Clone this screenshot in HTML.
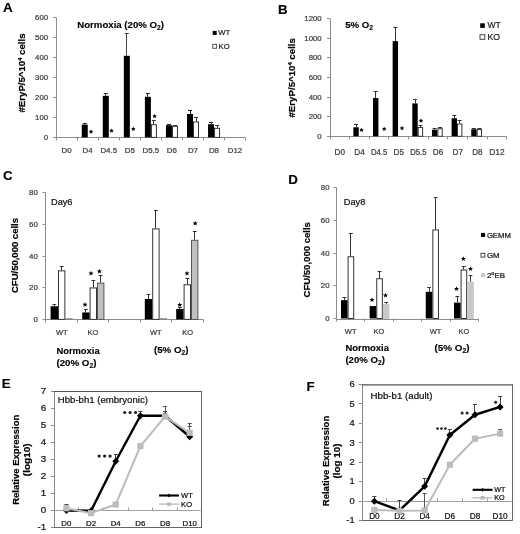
<!DOCTYPE html>
<html><head><meta charset="utf-8"><style>
html,body{margin:0;padding:0;background:#fff;width:520px;height:534px;overflow:hidden}
svg{display:block;filter:grayscale(1)}
text{font-family:"Liberation Sans", sans-serif}
</style></head><body>
<svg width="520" height="534" viewBox="0 0 520 534" font-family='"Liberation Sans", sans-serif'>
<rect width="520" height="534" fill="#fff"/>
<text x="2.90" y="12.30" font-size="13.4" text-anchor="start" font-weight="bold" fill="#000" stroke="#000" stroke-width="0.12" >A</text>
<line x1="56.50" y1="17.40" x2="56.50" y2="137.40" stroke="#8c8c8c" stroke-width="1" />
<line x1="53.00" y1="137.50" x2="56.00" y2="137.50" stroke="#8c8c8c" stroke-width="1" />
<text x="48.10" y="139.82" font-size="7.8" text-anchor="end" font-weight="normal" fill="#3c3c3c" stroke="#3c3c3c" stroke-width="0.22" >0</text>
<line x1="53.00" y1="117.50" x2="56.00" y2="117.50" stroke="#8c8c8c" stroke-width="1" />
<text x="48.10" y="119.82" font-size="7.8" text-anchor="end" font-weight="normal" fill="#3c3c3c" stroke="#3c3c3c" stroke-width="0.22" >100</text>
<line x1="53.00" y1="97.50" x2="56.00" y2="97.50" stroke="#8c8c8c" stroke-width="1" />
<text x="48.10" y="99.82" font-size="7.8" text-anchor="end" font-weight="normal" fill="#3c3c3c" stroke="#3c3c3c" stroke-width="0.22" >200</text>
<line x1="53.00" y1="77.50" x2="56.00" y2="77.50" stroke="#8c8c8c" stroke-width="1" />
<text x="48.10" y="79.82" font-size="7.8" text-anchor="end" font-weight="normal" fill="#3c3c3c" stroke="#3c3c3c" stroke-width="0.22" >300</text>
<line x1="53.00" y1="57.50" x2="56.00" y2="57.50" stroke="#8c8c8c" stroke-width="1" />
<text x="48.10" y="59.82" font-size="7.8" text-anchor="end" font-weight="normal" fill="#3c3c3c" stroke="#3c3c3c" stroke-width="0.22" >400</text>
<line x1="53.00" y1="37.50" x2="56.00" y2="37.50" stroke="#8c8c8c" stroke-width="1" />
<text x="48.10" y="39.82" font-size="7.8" text-anchor="end" font-weight="normal" fill="#3c3c3c" stroke="#3c3c3c" stroke-width="0.22" >500</text>
<line x1="53.00" y1="17.50" x2="56.00" y2="17.50" stroke="#8c8c8c" stroke-width="1" />
<text x="48.10" y="19.82" font-size="7.8" text-anchor="end" font-weight="normal" fill="#3c3c3c" stroke="#3c3c3c" stroke-width="0.22" >600</text>
<line x1="55.50" y1="137.50" x2="244.95" y2="137.50" stroke="#8c8c8c" stroke-width="1" />
<line x1="56.50" y1="137.40" x2="56.50" y2="140.40" stroke="#8c8c8c" stroke-width="1" />
<line x1="77.50" y1="137.40" x2="77.50" y2="140.40" stroke="#8c8c8c" stroke-width="1" />
<line x1="98.50" y1="137.40" x2="98.50" y2="140.40" stroke="#8c8c8c" stroke-width="1" />
<line x1="119.50" y1="137.40" x2="119.50" y2="140.40" stroke="#8c8c8c" stroke-width="1" />
<line x1="140.50" y1="137.40" x2="140.50" y2="140.40" stroke="#8c8c8c" stroke-width="1" />
<line x1="161.50" y1="137.40" x2="161.50" y2="140.40" stroke="#8c8c8c" stroke-width="1" />
<line x1="182.50" y1="137.40" x2="182.50" y2="140.40" stroke="#8c8c8c" stroke-width="1" />
<line x1="203.50" y1="137.40" x2="203.50" y2="140.40" stroke="#8c8c8c" stroke-width="1" />
<line x1="224.50" y1="137.40" x2="224.50" y2="140.40" stroke="#8c8c8c" stroke-width="1" />
<line x1="245.50" y1="137.40" x2="245.50" y2="140.40" stroke="#8c8c8c" stroke-width="1" />
<text x="66.62" y="152.90" font-size="7.9" text-anchor="middle" font-weight="normal" fill="#3c3c3c" stroke="#3c3c3c" stroke-width="0.22" >D0</text>
<text x="87.67" y="152.90" font-size="7.9" text-anchor="middle" font-weight="normal" fill="#3c3c3c" stroke="#3c3c3c" stroke-width="0.22" >D4</text>
<text x="108.72" y="152.90" font-size="7.9" text-anchor="middle" font-weight="normal" fill="#3c3c3c" stroke="#3c3c3c" stroke-width="0.22" >D4.5</text>
<text x="129.78" y="152.90" font-size="7.9" text-anchor="middle" font-weight="normal" fill="#3c3c3c" stroke="#3c3c3c" stroke-width="0.22" >D5</text>
<text x="150.82" y="152.90" font-size="7.9" text-anchor="middle" font-weight="normal" fill="#3c3c3c" stroke="#3c3c3c" stroke-width="0.22" >D5.5</text>
<text x="171.88" y="152.90" font-size="7.9" text-anchor="middle" font-weight="normal" fill="#3c3c3c" stroke="#3c3c3c" stroke-width="0.22" >D6</text>
<text x="192.93" y="152.90" font-size="7.9" text-anchor="middle" font-weight="normal" fill="#3c3c3c" stroke="#3c3c3c" stroke-width="0.22" >D7</text>
<text x="213.97" y="152.90" font-size="7.9" text-anchor="middle" font-weight="normal" fill="#3c3c3c" stroke="#3c3c3c" stroke-width="0.22" >D8</text>
<text x="235.03" y="152.90" font-size="7.9" text-anchor="middle" font-weight="normal" fill="#3c3c3c" stroke="#3c3c3c" stroke-width="0.22" >D12</text>
<rect x="81.75" y="124.60" width="6.00" height="12.80" fill="#000" stroke="none" stroke-width="1" />
<line x1="84.50" y1="124.60" x2="84.50" y2="123.80" stroke="#222" stroke-width="1" />
<line x1="82.75" y1="123.50" x2="86.75" y2="123.50" stroke="#222" stroke-width="1" />
<rect x="102.80" y="95.80" width="6.00" height="41.60" fill="#000" stroke="none" stroke-width="1" />
<line x1="105.50" y1="95.80" x2="105.50" y2="93.00" stroke="#222" stroke-width="1" />
<line x1="103.80" y1="93.50" x2="107.80" y2="93.50" stroke="#222" stroke-width="1" />
<rect x="123.85" y="55.80" width="6.00" height="81.60" fill="#000" stroke="none" stroke-width="1" />
<line x1="126.50" y1="55.80" x2="126.50" y2="33.20" stroke="#444" stroke-width="1" />
<line x1="124.85" y1="33.50" x2="128.85" y2="33.50" stroke="#444" stroke-width="1" />
<rect x="144.90" y="96.80" width="6.00" height="40.60" fill="#000" stroke="none" stroke-width="1" />
<line x1="147.50" y1="96.80" x2="147.50" y2="93.80" stroke="#222" stroke-width="1" />
<line x1="145.90" y1="93.50" x2="149.90" y2="93.50" stroke="#222" stroke-width="1" />
<rect x="151.40" y="124.70" width="5.00" height="12.70" fill="#fff" stroke="#333" stroke-width="1" />
<line x1="153.50" y1="124.20" x2="153.50" y2="120.80" stroke="#333" stroke-width="1" />
<line x1="151.90" y1="120.50" x2="155.90" y2="120.50" stroke="#333" stroke-width="1" />
<rect x="165.95" y="125.20" width="6.00" height="12.20" fill="#000" stroke="none" stroke-width="1" />
<line x1="168.50" y1="125.20" x2="168.50" y2="124.80" stroke="#222" stroke-width="1" />
<line x1="166.95" y1="124.50" x2="170.95" y2="124.50" stroke="#222" stroke-width="1" />
<rect x="172.45" y="126.30" width="5.00" height="11.10" fill="#fff" stroke="#333" stroke-width="1" />
<line x1="174.50" y1="125.80" x2="174.50" y2="125.20" stroke="#333" stroke-width="1" />
<line x1="172.95" y1="125.50" x2="176.95" y2="125.50" stroke="#333" stroke-width="1" />
<rect x="187.00" y="114.00" width="6.00" height="23.40" fill="#000" stroke="none" stroke-width="1" />
<line x1="190.50" y1="114.00" x2="190.50" y2="110.60" stroke="#222" stroke-width="1" />
<line x1="188.00" y1="110.50" x2="192.00" y2="110.50" stroke="#222" stroke-width="1" />
<rect x="193.50" y="121.90" width="5.00" height="15.50" fill="#fff" stroke="#333" stroke-width="1" />
<line x1="196.50" y1="121.40" x2="196.50" y2="117.80" stroke="#333" stroke-width="1" />
<line x1="194.00" y1="117.50" x2="198.00" y2="117.50" stroke="#333" stroke-width="1" />
<rect x="208.05" y="124.20" width="6.00" height="13.20" fill="#000" stroke="none" stroke-width="1" />
<line x1="211.50" y1="124.20" x2="211.50" y2="122.60" stroke="#222" stroke-width="1" />
<line x1="209.05" y1="122.50" x2="213.05" y2="122.50" stroke="#222" stroke-width="1" />
<rect x="214.55" y="128.30" width="5.00" height="9.10" fill="#fff" stroke="#333" stroke-width="1" />
<line x1="217.50" y1="127.80" x2="217.50" y2="125.60" stroke="#333" stroke-width="1" />
<line x1="215.05" y1="125.50" x2="219.05" y2="125.50" stroke="#333" stroke-width="1" />
<polygon points="91.00,129.50 91.78,130.63 93.09,131.02 92.26,132.11 92.29,133.48 91.00,133.02 89.71,133.48 89.74,132.11 88.91,131.02 90.22,130.63" fill="#111"/>
<polygon points="111.50,128.60 112.28,129.73 113.59,130.12 112.76,131.21 112.79,132.58 111.50,132.12 110.21,132.58 110.24,131.21 109.41,130.12 110.72,129.73" fill="#111"/>
<polygon points="133.30,126.80 134.08,127.93 135.39,128.32 134.56,129.41 134.59,130.78 133.30,130.32 132.01,130.78 132.04,129.41 131.21,128.32 132.52,127.93" fill="#111"/>
<polygon points="154.60,114.10 155.38,115.23 156.69,115.62 155.86,116.71 155.89,118.08 154.60,117.62 153.31,118.08 153.34,116.71 152.51,115.62 153.82,115.23" fill="#111"/>
<text x="77.20" y="28.40" font-size="9.3" text-anchor="start" font-weight="bold" fill="#000" stroke="#000" stroke-width="0.12" textLength="86.8" lengthAdjust="spacingAndGlyphs">Normoxia (20% O<tspan dy="2" font-size="6.4">2</tspan><tspan dy="-2">)</tspan></text>
<rect x="212.70" y="30.90" width="4.00" height="4.00" fill="#000" stroke="none" stroke-width="1" />
<text x="218.30" y="35.20" font-size="7.7" text-anchor="start" font-weight="normal" fill="#222" stroke="#222" stroke-width="0.22" >WT</text>
<rect x="212.80" y="44.30" width="3.60" height="4.00" fill="#fff" stroke="#444" stroke-width="0.9" />
<text x="218.60" y="48.70" font-size="7.7" text-anchor="start" font-weight="normal" fill="#222" stroke="#222" stroke-width="0.22" >KO</text>
<text x="0" y="0" font-size="9.2" text-anchor="middle" font-weight="bold" fill="#000" stroke="#000" stroke-width="0.2" transform="translate(24.80,73.00) rotate(-90)" textLength="79" lengthAdjust="spacingAndGlyphs">#EryP/5^10<tspan dy="-3" font-size="5.5">4</tspan><tspan dy="3"> cells</tspan></text>
<text x="277.90" y="13.70" font-size="13.3" text-anchor="start" font-weight="bold" fill="#000" stroke="#000" stroke-width="0.12" >B</text>
<line x1="330.50" y1="18.54" x2="330.50" y2="136.30" stroke="#8c8c8c" stroke-width="1" />
<line x1="327.00" y1="136.50" x2="330.00" y2="136.50" stroke="#8c8c8c" stroke-width="1" />
<text x="321.70" y="138.87" font-size="7.8" text-anchor="end" font-weight="normal" fill="#3c3c3c" stroke="#3c3c3c" stroke-width="0.22" >0</text>
<line x1="327.00" y1="116.50" x2="330.00" y2="116.50" stroke="#8c8c8c" stroke-width="1" />
<text x="321.70" y="119.25" font-size="7.8" text-anchor="end" font-weight="normal" fill="#3c3c3c" stroke="#3c3c3c" stroke-width="0.22" >200</text>
<line x1="327.00" y1="97.50" x2="330.00" y2="97.50" stroke="#8c8c8c" stroke-width="1" />
<text x="321.70" y="99.62" font-size="7.8" text-anchor="end" font-weight="normal" fill="#3c3c3c" stroke="#3c3c3c" stroke-width="0.22" >400</text>
<line x1="327.00" y1="77.50" x2="330.00" y2="77.50" stroke="#8c8c8c" stroke-width="1" />
<text x="321.70" y="80.00" font-size="7.8" text-anchor="end" font-weight="normal" fill="#3c3c3c" stroke="#3c3c3c" stroke-width="0.22" >600</text>
<line x1="327.00" y1="57.50" x2="330.00" y2="57.50" stroke="#8c8c8c" stroke-width="1" />
<text x="321.70" y="60.37" font-size="7.8" text-anchor="end" font-weight="normal" fill="#3c3c3c" stroke="#3c3c3c" stroke-width="0.22" >800</text>
<line x1="327.00" y1="38.50" x2="330.00" y2="38.50" stroke="#8c8c8c" stroke-width="1" />
<text x="321.70" y="40.74" font-size="7.8" text-anchor="end" font-weight="normal" fill="#3c3c3c" stroke="#3c3c3c" stroke-width="0.22" >1000</text>
<line x1="327.00" y1="18.50" x2="330.00" y2="18.50" stroke="#8c8c8c" stroke-width="1" />
<text x="321.70" y="21.12" font-size="7.8" text-anchor="end" font-weight="normal" fill="#3c3c3c" stroke="#3c3c3c" stroke-width="0.22" >1200</text>
<line x1="329.50" y1="136.50" x2="506.35" y2="136.50" stroke="#8c8c8c" stroke-width="1" />
<line x1="330.50" y1="136.30" x2="330.50" y2="139.30" stroke="#8c8c8c" stroke-width="1" />
<line x1="349.50" y1="136.30" x2="349.50" y2="139.30" stroke="#8c8c8c" stroke-width="1" />
<line x1="369.50" y1="136.30" x2="369.50" y2="139.30" stroke="#8c8c8c" stroke-width="1" />
<line x1="388.50" y1="136.30" x2="388.50" y2="139.30" stroke="#8c8c8c" stroke-width="1" />
<line x1="408.50" y1="136.30" x2="408.50" y2="139.30" stroke="#8c8c8c" stroke-width="1" />
<line x1="428.50" y1="136.30" x2="428.50" y2="139.30" stroke="#8c8c8c" stroke-width="1" />
<line x1="447.50" y1="136.30" x2="447.50" y2="139.30" stroke="#8c8c8c" stroke-width="1" />
<line x1="467.50" y1="136.30" x2="467.50" y2="139.30" stroke="#8c8c8c" stroke-width="1" />
<line x1="487.50" y1="136.30" x2="487.50" y2="139.30" stroke="#8c8c8c" stroke-width="1" />
<line x1="506.50" y1="136.30" x2="506.50" y2="139.30" stroke="#8c8c8c" stroke-width="1" />
<text x="339.82" y="154.70" font-size="8.5" text-anchor="middle" font-weight="normal" fill="#3c3c3c" stroke="#3c3c3c" stroke-width="0.22" textLength="10.4" lengthAdjust="spacingAndGlyphs">D0</text>
<text x="359.47" y="154.70" font-size="8.5" text-anchor="middle" font-weight="normal" fill="#3c3c3c" stroke="#3c3c3c" stroke-width="0.22" textLength="10.4" lengthAdjust="spacingAndGlyphs">D4</text>
<text x="379.12" y="154.70" font-size="8.5" text-anchor="middle" font-weight="normal" fill="#3c3c3c" stroke="#3c3c3c" stroke-width="0.22" textLength="16.4" lengthAdjust="spacingAndGlyphs">D4.5</text>
<text x="398.77" y="154.70" font-size="8.5" text-anchor="middle" font-weight="normal" fill="#3c3c3c" stroke="#3c3c3c" stroke-width="0.22" textLength="10.4" lengthAdjust="spacingAndGlyphs">D5</text>
<text x="418.43" y="154.70" font-size="8.5" text-anchor="middle" font-weight="normal" fill="#3c3c3c" stroke="#3c3c3c" stroke-width="0.22" textLength="16.4" lengthAdjust="spacingAndGlyphs">D5.5</text>
<text x="438.07" y="154.70" font-size="8.5" text-anchor="middle" font-weight="normal" fill="#3c3c3c" stroke="#3c3c3c" stroke-width="0.22" textLength="10.4" lengthAdjust="spacingAndGlyphs">D6</text>
<text x="457.72" y="154.70" font-size="8.5" text-anchor="middle" font-weight="normal" fill="#3c3c3c" stroke="#3c3c3c" stroke-width="0.22" textLength="10.4" lengthAdjust="spacingAndGlyphs">D7</text>
<text x="477.37" y="154.70" font-size="8.5" text-anchor="middle" font-weight="normal" fill="#3c3c3c" stroke="#3c3c3c" stroke-width="0.22" textLength="10.4" lengthAdjust="spacingAndGlyphs">D8</text>
<text x="497.02" y="154.70" font-size="8.5" text-anchor="middle" font-weight="normal" fill="#3c3c3c" stroke="#3c3c3c" stroke-width="0.22" textLength="15.4" lengthAdjust="spacingAndGlyphs">D12</text>
<rect x="353.35" y="127.27" width="5.40" height="9.03" fill="#000" stroke="none" stroke-width="1" />
<line x1="356.50" y1="127.27" x2="356.50" y2="124.33" stroke="#333" stroke-width="1" />
<line x1="354.05" y1="124.50" x2="358.05" y2="124.50" stroke="#333" stroke-width="1" />
<rect x="373.00" y="98.03" width="5.40" height="38.27" fill="#000" stroke="none" stroke-width="1" />
<line x1="375.50" y1="98.03" x2="375.50" y2="91.16" stroke="#333" stroke-width="1" />
<line x1="373.70" y1="91.50" x2="377.70" y2="91.50" stroke="#333" stroke-width="1" />
<rect x="392.65" y="41.11" width="5.40" height="95.19" fill="#000" stroke="none" stroke-width="1" />
<line x1="395.50" y1="41.11" x2="395.50" y2="27.38" stroke="#333" stroke-width="1" />
<line x1="393.35" y1="27.50" x2="397.35" y2="27.50" stroke="#333" stroke-width="1" />
<rect x="412.30" y="103.43" width="5.40" height="32.87" fill="#000" stroke="none" stroke-width="1" />
<line x1="415.50" y1="103.43" x2="415.50" y2="99.01" stroke="#333" stroke-width="1" />
<line x1="413.00" y1="99.50" x2="417.00" y2="99.50" stroke="#333" stroke-width="1" />
<rect x="418.20" y="127.48" width="4.40" height="8.82" fill="#fff" stroke="#333" stroke-width="1" />
<line x1="420.50" y1="126.98" x2="420.50" y2="125.80" stroke="#333" stroke-width="1" />
<line x1="418.40" y1="125.50" x2="422.40" y2="125.50" stroke="#333" stroke-width="1" />
<rect x="431.95" y="129.73" width="5.40" height="6.57" fill="#000" stroke="none" stroke-width="1" />
<line x1="434.50" y1="129.73" x2="434.50" y2="128.94" stroke="#333" stroke-width="1" />
<line x1="432.65" y1="128.50" x2="436.65" y2="128.50" stroke="#333" stroke-width="1" />
<rect x="437.85" y="128.75" width="4.40" height="7.55" fill="#fff" stroke="#333" stroke-width="1" />
<line x1="440.50" y1="128.25" x2="440.50" y2="127.47" stroke="#333" stroke-width="1" />
<line x1="438.05" y1="127.50" x2="442.05" y2="127.50" stroke="#333" stroke-width="1" />
<rect x="451.60" y="118.24" width="5.40" height="18.06" fill="#000" stroke="none" stroke-width="1" />
<line x1="454.50" y1="118.24" x2="454.50" y2="115.20" stroke="#333" stroke-width="1" />
<line x1="452.30" y1="115.50" x2="456.30" y2="115.50" stroke="#333" stroke-width="1" />
<rect x="457.50" y="124.04" width="4.40" height="12.26" fill="#fff" stroke="#333" stroke-width="1" />
<line x1="459.50" y1="123.54" x2="459.50" y2="120.80" stroke="#333" stroke-width="1" />
<line x1="457.70" y1="120.50" x2="461.70" y2="120.50" stroke="#333" stroke-width="1" />
<rect x="471.25" y="129.23" width="5.40" height="7.07" fill="#000" stroke="none" stroke-width="1" />
<line x1="473.50" y1="129.23" x2="473.50" y2="128.74" stroke="#333" stroke-width="1" />
<line x1="471.95" y1="128.50" x2="475.95" y2="128.50" stroke="#333" stroke-width="1" />
<rect x="477.15" y="129.44" width="4.40" height="6.86" fill="#fff" stroke="#333" stroke-width="1" />
<line x1="479.50" y1="128.94" x2="479.50" y2="128.45" stroke="#333" stroke-width="1" />
<line x1="477.35" y1="128.50" x2="481.35" y2="128.50" stroke="#333" stroke-width="1" />
<polygon points="361.50,127.80 362.28,128.93 363.59,129.32 362.76,130.41 362.79,131.78 361.50,131.32 360.21,131.78 360.24,130.41 359.41,129.32 360.72,128.93" fill="#111"/>
<polygon points="384.20,126.80 384.98,127.93 386.29,128.32 385.46,129.41 385.49,130.78 384.20,130.32 382.91,130.78 382.94,129.41 382.11,128.32 383.42,127.93" fill="#111"/>
<polygon points="402.00,126.00 402.78,127.13 404.09,127.52 403.26,128.61 403.29,129.98 402.00,129.52 400.71,129.98 400.74,128.61 399.91,127.52 401.22,127.13" fill="#111"/>
<polygon points="421.00,118.60 421.78,119.73 423.09,120.12 422.26,121.21 422.29,122.58 421.00,122.12 419.71,122.58 419.74,121.21 418.91,120.12 420.22,119.73" fill="#111"/>
<text x="345.20" y="27.60" font-size="9.3" text-anchor="start" font-weight="bold" fill="#000" stroke="#000" stroke-width="0.12" textLength="27.8" lengthAdjust="spacingAndGlyphs">5% O<tspan dy="2" font-size="6.4">2</tspan></text>
<rect x="480.20" y="23.30" width="4.60" height="4.60" fill="#000" stroke="none" stroke-width="1" />
<text x="487.40" y="28.40" font-size="8.6" text-anchor="start" font-weight="normal" fill="#222" stroke="#222" stroke-width="0.22" >WT</text>
<rect x="480.00" y="34.70" width="4.80" height="4.60" fill="#fff" stroke="#333" stroke-width="0.9" />
<text x="487.60" y="39.60" font-size="8.6" text-anchor="start" font-weight="normal" fill="#222" stroke="#222" stroke-width="0.22" >KO</text>
<text x="0" y="0" font-size="9.3" text-anchor="middle" font-weight="bold" fill="#000" stroke="#000" stroke-width="0.2" transform="translate(294.80,77.80) rotate(-90)" textLength="79.5" lengthAdjust="spacingAndGlyphs">#EryP/5^10<tspan dy="-3" font-size="5.5">4</tspan><tspan dy="3"> cells</tspan></text>
<text x="3.00" y="179.60" font-size="13.3" text-anchor="start" font-weight="bold" fill="#000" stroke="#000" stroke-width="0.12" >C</text>
<line x1="45.50" y1="192.80" x2="45.50" y2="319.40" stroke="#8c8c8c" stroke-width="1" />
<line x1="42.50" y1="319.50" x2="45.50" y2="319.50" stroke="#8c8c8c" stroke-width="1" />
<text x="37.80" y="321.90" font-size="7.8" text-anchor="end" font-weight="normal" fill="#3c3c3c" stroke="#3c3c3c" stroke-width="0.22" >0</text>
<line x1="42.50" y1="287.50" x2="45.50" y2="287.50" stroke="#8c8c8c" stroke-width="1" />
<text x="37.80" y="290.25" font-size="7.8" text-anchor="end" font-weight="normal" fill="#3c3c3c" stroke="#3c3c3c" stroke-width="0.22" >20</text>
<line x1="42.50" y1="256.50" x2="45.50" y2="256.50" stroke="#8c8c8c" stroke-width="1" />
<text x="37.80" y="258.60" font-size="7.8" text-anchor="end" font-weight="normal" fill="#3c3c3c" stroke="#3c3c3c" stroke-width="0.22" >40</text>
<line x1="42.50" y1="224.50" x2="45.50" y2="224.50" stroke="#8c8c8c" stroke-width="1" />
<text x="37.80" y="226.95" font-size="7.8" text-anchor="end" font-weight="normal" fill="#3c3c3c" stroke="#3c3c3c" stroke-width="0.22" >60</text>
<line x1="42.50" y1="192.50" x2="45.50" y2="192.50" stroke="#8c8c8c" stroke-width="1" />
<text x="37.80" y="195.30" font-size="7.8" text-anchor="end" font-weight="normal" fill="#3c3c3c" stroke="#3c3c3c" stroke-width="0.22" >80</text>
<line x1="45.00" y1="319.50" x2="203.00" y2="319.50" stroke="#8c8c8c" stroke-width="1" />
<line x1="45.50" y1="319.40" x2="45.50" y2="322.40" stroke="#8c8c8c" stroke-width="1" />
<line x1="77.50" y1="319.40" x2="77.50" y2="322.40" stroke="#8c8c8c" stroke-width="1" />
<line x1="108.50" y1="319.40" x2="108.50" y2="322.40" stroke="#8c8c8c" stroke-width="1" />
<line x1="140.50" y1="319.40" x2="140.50" y2="322.40" stroke="#8c8c8c" stroke-width="1" />
<line x1="171.50" y1="319.40" x2="171.50" y2="322.40" stroke="#8c8c8c" stroke-width="1" />
<line x1="203.50" y1="319.40" x2="203.50" y2="322.40" stroke="#8c8c8c" stroke-width="1" />
<rect x="50.60" y="306.27" width="7.40" height="13.13" fill="#000" stroke="none" stroke-width="1" />
<line x1="54.50" y1="306.27" x2="54.50" y2="304.37" stroke="#333" stroke-width="1" />
<line x1="52.40" y1="304.50" x2="56.20" y2="304.50" stroke="#333" stroke-width="1" />
<rect x="58.50" y="270.84" width="6.40" height="48.56" fill="#fff" stroke="#333" stroke-width="1" />
<line x1="61.50" y1="270.34" x2="61.50" y2="266.07" stroke="#333" stroke-width="1" />
<line x1="59.80" y1="266.50" x2="63.60" y2="266.50" stroke="#333" stroke-width="1" />
<rect x="65.40" y="318.20" width="7.40" height="1.20" fill="#888" stroke="none" stroke-width="1" />
<rect x="82.20" y="312.44" width="7.40" height="6.96" fill="#000" stroke="none" stroke-width="1" />
<line x1="85.50" y1="312.44" x2="85.50" y2="309.90" stroke="#333" stroke-width="1" />
<line x1="84.00" y1="309.50" x2="87.80" y2="309.50" stroke="#333" stroke-width="1" />
<rect x="90.10" y="287.93" width="6.40" height="31.47" fill="#fff" stroke="#333" stroke-width="1" />
<line x1="93.50" y1="287.43" x2="93.50" y2="280.31" stroke="#333" stroke-width="1" />
<line x1="91.40" y1="280.50" x2="95.20" y2="280.50" stroke="#333" stroke-width="1" />
<rect x="97.50" y="283.19" width="6.40" height="36.21" fill="#c0c0c0" stroke="#555" stroke-width="1" />
<line x1="100.50" y1="282.69" x2="100.50" y2="275.56" stroke="#333" stroke-width="1" />
<line x1="98.80" y1="275.50" x2="102.60" y2="275.50" stroke="#333" stroke-width="1" />
<rect x="144.80" y="298.99" width="7.40" height="20.41" fill="#000" stroke="none" stroke-width="1" />
<line x1="148.50" y1="298.99" x2="148.50" y2="294.08" stroke="#333" stroke-width="1" />
<line x1="146.60" y1="294.50" x2="150.40" y2="294.50" stroke="#333" stroke-width="1" />
<rect x="152.70" y="228.91" width="6.40" height="90.49" fill="#fff" stroke="#333" stroke-width="1" />
<line x1="155.50" y1="228.41" x2="155.50" y2="210.37" stroke="#333" stroke-width="1" />
<line x1="154.00" y1="210.50" x2="157.80" y2="210.50" stroke="#333" stroke-width="1" />
<rect x="159.60" y="318.20" width="7.40" height="1.20" fill="#888" stroke="none" stroke-width="1" />
<rect x="176.20" y="308.96" width="7.40" height="10.44" fill="#000" stroke="none" stroke-width="1" />
<line x1="179.50" y1="308.96" x2="179.50" y2="307.69" stroke="#333" stroke-width="1" />
<line x1="178.00" y1="307.50" x2="181.80" y2="307.50" stroke="#333" stroke-width="1" />
<rect x="184.10" y="284.77" width="6.40" height="34.63" fill="#fff" stroke="#333" stroke-width="1" />
<line x1="187.50" y1="284.27" x2="187.50" y2="278.73" stroke="#333" stroke-width="1" />
<line x1="185.40" y1="278.50" x2="189.20" y2="278.50" stroke="#333" stroke-width="1" />
<rect x="191.50" y="240.30" width="6.40" height="79.10" fill="#c0c0c0" stroke="#555" stroke-width="1" />
<line x1="194.50" y1="239.80" x2="194.50" y2="231.10" stroke="#333" stroke-width="1" />
<line x1="192.80" y1="231.50" x2="196.60" y2="231.50" stroke="#333" stroke-width="1" />
<polygon points="85.00,301.90 85.67,303.68 87.57,303.77 86.08,304.95 86.59,306.78 85.00,305.73 83.41,306.78 83.92,304.95 82.43,303.77 84.33,303.68" fill="#000"/>
<polygon points="91.00,270.70 91.67,272.48 93.57,272.57 92.08,273.75 92.59,275.58 91.00,274.53 89.41,275.58 89.92,273.75 88.43,272.57 90.33,272.48" fill="#000"/>
<polygon points="99.40,268.70 100.07,270.48 101.97,270.57 100.48,271.75 100.99,273.58 99.40,272.53 97.81,273.58 98.32,271.75 96.83,270.57 98.73,270.48" fill="#000"/>
<polygon points="179.70,302.20 180.37,303.98 182.27,304.07 180.78,305.25 181.29,307.08 179.70,306.03 178.11,307.08 178.62,305.25 177.13,304.07 179.03,303.98" fill="#000"/>
<polygon points="187.00,270.70 187.67,272.48 189.57,272.57 188.08,273.75 188.59,275.58 187.00,274.53 185.41,275.58 185.92,273.75 184.43,272.57 186.33,272.48" fill="#000"/>
<polygon points="195.20,220.70 195.87,222.48 197.77,222.57 196.28,223.75 196.79,225.58 195.20,224.53 193.61,225.58 194.12,223.75 192.63,222.57 194.53,222.48" fill="#000"/>
<text x="51.00" y="205.40" font-size="9.2" text-anchor="start" font-weight="normal" fill="#111" stroke="#111" stroke-width="0.22" >Day6</text>
<text x="61.80" y="335.40" font-size="7.5" text-anchor="middle" font-weight="normal" fill="#3c3c3c" stroke="#3c3c3c" stroke-width="0.22" >WT</text>
<text x="92.90" y="335.40" font-size="7.5" text-anchor="middle" font-weight="normal" fill="#3c3c3c" stroke="#3c3c3c" stroke-width="0.22" >KO</text>
<text x="155.80" y="335.40" font-size="7.5" text-anchor="middle" font-weight="normal" fill="#3c3c3c" stroke="#3c3c3c" stroke-width="0.22" >WT</text>
<text x="187.60" y="335.40" font-size="7.5" text-anchor="middle" font-weight="normal" fill="#3c3c3c" stroke="#3c3c3c" stroke-width="0.22" >KO</text>
<text x="56.40" y="354.20" font-size="9.4" text-anchor="start" font-weight="bold" fill="#000" stroke="#000" stroke-width="0.12" >Normoxia</text>
<text x="56.40" y="366.20" font-size="9.4" text-anchor="start" font-weight="bold" fill="#000" stroke="#000" stroke-width="0.12" textLength="40.0" lengthAdjust="spacingAndGlyphs">(20% O<tspan dy="2" font-size="6.4">2</tspan><tspan dy="-2">)</tspan></text>
<text x="154.00" y="353.30" font-size="9.4" text-anchor="start" font-weight="bold" fill="#000" stroke="#000" stroke-width="0.12" textLength="34.4" lengthAdjust="spacingAndGlyphs">(5% O<tspan dy="2" font-size="6.4">2</tspan><tspan dy="-2">)</tspan></text>
<text x="0" y="0" font-size="9.5" text-anchor="middle" font-weight="bold" fill="#000" stroke="#000" stroke-width="0.2" transform="translate(18.30,255.50) rotate(-90)" textLength="75" lengthAdjust="spacingAndGlyphs">CFU/50,000 cells</text>
<text x="288.30" y="183.50" font-size="13.3" text-anchor="start" font-weight="bold" fill="#000" stroke="#000" stroke-width="0.12" >D</text>
<line x1="336.50" y1="187.50" x2="336.50" y2="318.50" stroke="#8c8c8c" stroke-width="1" />
<line x1="333.50" y1="318.50" x2="336.50" y2="318.50" stroke="#8c8c8c" stroke-width="1" />
<text x="329.50" y="321.00" font-size="7.8" text-anchor="end" font-weight="normal" fill="#3c3c3c" stroke="#3c3c3c" stroke-width="0.22" >0</text>
<line x1="333.50" y1="285.50" x2="336.50" y2="285.50" stroke="#8c8c8c" stroke-width="1" />
<text x="329.50" y="288.25" font-size="7.8" text-anchor="end" font-weight="normal" fill="#3c3c3c" stroke="#3c3c3c" stroke-width="0.22" >20</text>
<line x1="333.50" y1="253.50" x2="336.50" y2="253.50" stroke="#8c8c8c" stroke-width="1" />
<text x="329.50" y="255.50" font-size="7.8" text-anchor="end" font-weight="normal" fill="#3c3c3c" stroke="#3c3c3c" stroke-width="0.22" >40</text>
<line x1="333.50" y1="220.50" x2="336.50" y2="220.50" stroke="#8c8c8c" stroke-width="1" />
<text x="329.50" y="222.75" font-size="7.8" text-anchor="end" font-weight="normal" fill="#3c3c3c" stroke="#3c3c3c" stroke-width="0.22" >60</text>
<line x1="333.50" y1="187.50" x2="336.50" y2="187.50" stroke="#8c8c8c" stroke-width="1" />
<text x="329.50" y="190.00" font-size="7.8" text-anchor="end" font-weight="normal" fill="#3c3c3c" stroke="#3c3c3c" stroke-width="0.22" >80</text>
<line x1="336.00" y1="319.50" x2="478.25" y2="319.50" stroke="#8c8c8c" stroke-width="1" />
<line x1="336.50" y1="318.50" x2="336.50" y2="321.50" stroke="#8c8c8c" stroke-width="1" />
<line x1="364.50" y1="318.50" x2="364.50" y2="321.50" stroke="#8c8c8c" stroke-width="1" />
<line x1="393.50" y1="318.50" x2="393.50" y2="321.50" stroke="#8c8c8c" stroke-width="1" />
<line x1="421.50" y1="318.50" x2="421.50" y2="321.50" stroke="#8c8c8c" stroke-width="1" />
<line x1="450.50" y1="318.50" x2="450.50" y2="321.50" stroke="#8c8c8c" stroke-width="1" />
<line x1="478.50" y1="318.50" x2="478.50" y2="321.50" stroke="#8c8c8c" stroke-width="1" />
<rect x="341.00" y="300.16" width="6.60" height="18.34" fill="#000" stroke="none" stroke-width="1" />
<line x1="344.50" y1="300.16" x2="344.50" y2="297.38" stroke="#333" stroke-width="1" />
<line x1="342.40" y1="297.50" x2="346.20" y2="297.50" stroke="#333" stroke-width="1" />
<rect x="348.10" y="256.77" width="5.60" height="61.73" fill="#fff" stroke="#333" stroke-width="1" />
<line x1="350.50" y1="256.27" x2="350.50" y2="233.35" stroke="#333" stroke-width="1" />
<line x1="349.00" y1="233.50" x2="352.80" y2="233.50" stroke="#333" stroke-width="1" />
<rect x="369.65" y="306.06" width="6.60" height="12.44" fill="#000" stroke="none" stroke-width="1" />
<rect x="376.75" y="278.72" width="5.60" height="39.78" fill="#fff" stroke="#333" stroke-width="1" />
<line x1="379.50" y1="278.22" x2="379.50" y2="271.01" stroke="#333" stroke-width="1" />
<line x1="377.65" y1="271.50" x2="381.45" y2="271.50" stroke="#333" stroke-width="1" />
<rect x="383.35" y="304.43" width="5.60" height="14.07" fill="#c8c8c8" stroke="#c8c8c8" stroke-width="1" />
<line x1="386.50" y1="303.93" x2="386.50" y2="302.29" stroke="#333" stroke-width="1" />
<line x1="384.25" y1="302.50" x2="388.05" y2="302.50" stroke="#333" stroke-width="1" />
<rect x="425.75" y="291.81" width="6.60" height="26.69" fill="#000" stroke="none" stroke-width="1" />
<line x1="429.50" y1="291.81" x2="429.50" y2="287.88" stroke="#333" stroke-width="1" />
<line x1="427.15" y1="287.50" x2="430.95" y2="287.50" stroke="#333" stroke-width="1" />
<rect x="432.85" y="229.92" width="5.60" height="88.58" fill="#fff" stroke="#333" stroke-width="1" />
<line x1="435.50" y1="229.42" x2="435.50" y2="197.65" stroke="#333" stroke-width="1" />
<line x1="433.75" y1="197.50" x2="437.55" y2="197.50" stroke="#333" stroke-width="1" />
<rect x="454.00" y="302.62" width="6.60" height="15.88" fill="#000" stroke="none" stroke-width="1" />
<line x1="457.50" y1="302.62" x2="457.50" y2="296.72" stroke="#333" stroke-width="1" />
<line x1="455.40" y1="296.50" x2="459.20" y2="296.50" stroke="#333" stroke-width="1" />
<rect x="461.10" y="270.04" width="5.60" height="48.46" fill="#fff" stroke="#333" stroke-width="1" />
<line x1="463.50" y1="269.54" x2="463.50" y2="266.10" stroke="#333" stroke-width="1" />
<line x1="462.00" y1="266.50" x2="465.80" y2="266.50" stroke="#333" stroke-width="1" />
<rect x="467.70" y="282.16" width="5.60" height="36.34" fill="#c8c8c8" stroke="#c8c8c8" stroke-width="1" />
<line x1="470.50" y1="281.66" x2="470.50" y2="275.43" stroke="#333" stroke-width="1" />
<line x1="468.60" y1="275.50" x2="472.40" y2="275.50" stroke="#333" stroke-width="1" />
<polygon points="372.00,297.20 372.67,298.98 374.57,299.07 373.08,300.25 373.59,302.08 372.00,301.03 370.41,302.08 370.92,300.25 369.43,299.07 371.33,298.98" fill="#000"/>
<polygon points="385.50,292.70 386.17,294.48 388.07,294.57 386.58,295.75 387.09,297.58 385.50,296.53 383.91,297.58 384.42,295.75 382.93,294.57 384.83,294.48" fill="#000"/>
<polygon points="456.50,286.20 457.17,287.98 459.07,288.07 457.58,289.25 458.09,291.08 456.50,290.03 454.91,291.08 455.42,289.25 453.93,288.07 455.83,287.98" fill="#000"/>
<polygon points="463.40,256.20 464.07,257.98 465.97,258.07 464.48,259.25 464.99,261.08 463.40,260.03 461.81,261.08 462.32,259.25 460.83,258.07 462.73,257.98" fill="#000"/>
<polygon points="470.50,266.20 471.17,267.98 473.07,268.07 471.58,269.25 472.09,271.08 470.50,270.03 468.91,271.08 469.42,269.25 467.93,268.07 469.83,267.98" fill="#000"/>
<text x="343.80" y="205.40" font-size="9.2" text-anchor="start" font-weight="normal" fill="#111" stroke="#111" stroke-width="0.22" >Day8</text>
<text x="350.70" y="334.20" font-size="7.5" text-anchor="middle" font-weight="normal" fill="#3c3c3c" stroke="#3c3c3c" stroke-width="0.22" >WT</text>
<text x="379.00" y="334.20" font-size="7.5" text-anchor="middle" font-weight="normal" fill="#3c3c3c" stroke="#3c3c3c" stroke-width="0.22" >KO</text>
<text x="435.50" y="334.20" font-size="7.5" text-anchor="middle" font-weight="normal" fill="#3c3c3c" stroke="#3c3c3c" stroke-width="0.22" >WT</text>
<text x="464.00" y="334.20" font-size="7.5" text-anchor="middle" font-weight="normal" fill="#3c3c3c" stroke="#3c3c3c" stroke-width="0.22" >KO</text>
<text x="345.40" y="350.70" font-size="9.2" text-anchor="start" font-weight="bold" fill="#000" stroke="#000" stroke-width="0.12" textLength="43.6" lengthAdjust="spacingAndGlyphs">Normoxia</text>
<text x="345.40" y="362.50" font-size="9.2" text-anchor="start" font-weight="bold" fill="#000" stroke="#000" stroke-width="0.12" textLength="39.5" lengthAdjust="spacingAndGlyphs">(20% O<tspan dy="2" font-size="6.3">2</tspan><tspan dy="-2">)</tspan></text>
<text x="434.60" y="350.80" font-size="9.2" text-anchor="start" font-weight="bold" fill="#000" stroke="#000" stroke-width="0.12" textLength="34.9" lengthAdjust="spacingAndGlyphs">(5% O<tspan dy="2" font-size="6.3">2</tspan><tspan dy="-2">)</tspan></text>
<rect x="481.00" y="232.90" width="4.10" height="4.00" fill="#000" stroke="none" stroke-width="1" />
<text x="486.90" y="237.60" font-size="7.7" text-anchor="start" font-weight="normal" fill="#111" stroke="#111" stroke-width="0.22" >GEMM</text>
<rect x="481.00" y="253.30" width="3.80" height="3.80" fill="#fff" stroke="#333" stroke-width="0.9" />
<text x="486.90" y="257.80" font-size="7.9" text-anchor="start" font-weight="normal" fill="#111" stroke="#111" stroke-width="0.22" >GM</text>
<rect x="481.10" y="273.10" width="3.90" height="4.10" fill="#c8c8c8" stroke="none" stroke-width="1" />
<text x="486.90" y="277.80" font-size="8" text-anchor="start" font-weight="normal" fill="#111" stroke="#111" stroke-width="0.22" >2<tspan dy="-3" font-size="5.5">o</tspan><tspan dy="3">EB</tspan></text>
<text x="0" y="0" font-size="9.5" text-anchor="middle" font-weight="bold" fill="#000" stroke="#000" stroke-width="0.2" transform="translate(310.20,259.80) rotate(-90)" textLength="75.3" lengthAdjust="spacingAndGlyphs">CFU/50,000 cells</text>
<text x="1.80" y="388.40" font-size="13.3" text-anchor="start" font-weight="bold" fill="#000" stroke="#000" stroke-width="0.12" >E</text>
<line x1="54.50" y1="391.00" x2="54.50" y2="527.50" stroke="#888" stroke-width="1" />
<line x1="54.10" y1="527.50" x2="202.00" y2="527.50" stroke="#666" stroke-width="1" />
<line x1="54.10" y1="391.50" x2="202.00" y2="391.50" stroke="#555" stroke-width="1.2" />
<line x1="201.50" y1="391.00" x2="201.50" y2="527.50" stroke="#666" stroke-width="1" />
<line x1="54.10" y1="510.50" x2="202.00" y2="510.50" stroke="#a0a0a0" stroke-width="1" />
<line x1="78.50" y1="510.44" x2="78.50" y2="507.44" stroke="#a0a0a0" stroke-width="1" />
<line x1="103.50" y1="510.44" x2="103.50" y2="507.44" stroke="#a0a0a0" stroke-width="1" />
<line x1="128.50" y1="510.44" x2="128.50" y2="507.44" stroke="#a0a0a0" stroke-width="1" />
<line x1="152.50" y1="510.44" x2="152.50" y2="507.44" stroke="#a0a0a0" stroke-width="1" />
<line x1="177.50" y1="510.44" x2="177.50" y2="507.44" stroke="#a0a0a0" stroke-width="1" />
<line x1="51.10" y1="527.50" x2="54.10" y2="527.50" stroke="#888" stroke-width="1" />
<text x="46.30" y="530.44" font-size="9.8" text-anchor="end" font-weight="normal" fill="#111" stroke="#111" stroke-width="0.22" >-1</text>
<line x1="51.10" y1="510.50" x2="54.10" y2="510.50" stroke="#888" stroke-width="1" />
<text x="46.30" y="513.38" font-size="9.8" text-anchor="end" font-weight="normal" fill="#111" stroke="#111" stroke-width="0.22" >0</text>
<line x1="51.10" y1="493.50" x2="54.10" y2="493.50" stroke="#888" stroke-width="1" />
<text x="46.30" y="496.31" font-size="9.8" text-anchor="end" font-weight="normal" fill="#111" stroke="#111" stroke-width="0.22" >1</text>
<line x1="51.10" y1="476.50" x2="54.10" y2="476.50" stroke="#888" stroke-width="1" />
<text x="46.30" y="479.25" font-size="9.8" text-anchor="end" font-weight="normal" fill="#111" stroke="#111" stroke-width="0.22" >2</text>
<line x1="51.10" y1="459.50" x2="54.10" y2="459.50" stroke="#888" stroke-width="1" />
<text x="46.30" y="462.19" font-size="9.8" text-anchor="end" font-weight="normal" fill="#111" stroke="#111" stroke-width="0.22" >3</text>
<line x1="51.10" y1="442.50" x2="54.10" y2="442.50" stroke="#888" stroke-width="1" />
<text x="46.30" y="445.13" font-size="9.8" text-anchor="end" font-weight="normal" fill="#111" stroke="#111" stroke-width="0.22" >4</text>
<line x1="51.10" y1="425.50" x2="54.10" y2="425.50" stroke="#888" stroke-width="1" />
<text x="46.30" y="428.06" font-size="9.8" text-anchor="end" font-weight="normal" fill="#111" stroke="#111" stroke-width="0.22" >5</text>
<line x1="51.10" y1="408.50" x2="54.10" y2="408.50" stroke="#888" stroke-width="1" />
<text x="46.30" y="411.00" font-size="9.8" text-anchor="end" font-weight="normal" fill="#111" stroke="#111" stroke-width="0.22" >6</text>
<line x1="51.10" y1="391.50" x2="54.10" y2="391.50" stroke="#888" stroke-width="1" />
<text x="46.30" y="393.94" font-size="9.8" text-anchor="end" font-weight="normal" fill="#111" stroke="#111" stroke-width="0.22" >7</text>
<text x="66.42" y="525.60" font-size="7.9" text-anchor="middle" font-weight="normal" fill="#111" stroke="#111" stroke-width="0.22" >D0</text>
<text x="91.08" y="525.60" font-size="7.9" text-anchor="middle" font-weight="normal" fill="#111" stroke="#111" stroke-width="0.22" >D2</text>
<text x="115.73" y="525.60" font-size="7.9" text-anchor="middle" font-weight="normal" fill="#111" stroke="#111" stroke-width="0.22" >D4</text>
<text x="140.38" y="525.60" font-size="7.9" text-anchor="middle" font-weight="normal" fill="#111" stroke="#111" stroke-width="0.22" >D6</text>
<text x="165.03" y="525.60" font-size="7.9" text-anchor="middle" font-weight="normal" fill="#111" stroke="#111" stroke-width="0.22" >D8</text>
<text x="189.68" y="525.60" font-size="7.9" text-anchor="middle" font-weight="normal" fill="#111" stroke="#111" stroke-width="0.22" >D10</text>
<line x1="66.50" y1="510.44" x2="66.50" y2="504.29" stroke="#444" stroke-width="1" />
<line x1="64.42" y1="504.50" x2="68.42" y2="504.50" stroke="#444" stroke-width="1" />
<line x1="115.50" y1="461.30" x2="115.50" y2="454.30" stroke="#444" stroke-width="1" />
<line x1="113.73" y1="454.50" x2="117.73" y2="454.50" stroke="#444" stroke-width="1" />
<line x1="140.50" y1="415.74" x2="140.50" y2="411.30" stroke="#444" stroke-width="1" />
<line x1="138.38" y1="411.50" x2="142.38" y2="411.50" stroke="#444" stroke-width="1" />
<line x1="165.50" y1="415.74" x2="165.50" y2="411.13" stroke="#444" stroke-width="1" />
<line x1="163.03" y1="411.50" x2="167.03" y2="411.50" stroke="#444" stroke-width="1" />
<line x1="189.50" y1="436.73" x2="189.50" y2="426.15" stroke="#444" stroke-width="1" />
<line x1="187.68" y1="426.50" x2="191.68" y2="426.50" stroke="#444" stroke-width="1" />
<path d="M66.42,510.44 L91.08,510.78 L115.73,461.30 L140.38,415.74 L165.03,415.74 L189.68,436.73" fill="none" stroke="#000" stroke-width="2.4" stroke-linejoin="round"/>
<path d="M66.42,506.94 L69.92,510.44 L66.42,513.94 L62.92,510.44Z" fill="#000"/>
<path d="M91.08,507.28 L94.58,510.78 L91.08,514.28 L87.58,510.78Z" fill="#000"/>
<path d="M115.73,457.80 L119.23,461.30 L115.73,464.80 L112.23,461.30Z" fill="#000"/>
<path d="M140.38,412.24 L143.88,415.74 L140.38,419.24 L136.88,415.74Z" fill="#000"/>
<path d="M165.03,412.24 L168.53,415.74 L165.03,419.24 L161.53,415.74Z" fill="#000"/>
<path d="M189.68,433.23 L193.18,436.73 L189.68,440.23 L186.18,436.73Z" fill="#000"/>
<line x1="165.50" y1="416.59" x2="165.50" y2="406.70" stroke="#555" stroke-width="1" />
<line x1="163.03" y1="406.50" x2="167.03" y2="406.50" stroke="#555" stroke-width="1" />
<line x1="189.50" y1="432.80" x2="189.50" y2="423.08" stroke="#555" stroke-width="1" />
<line x1="187.68" y1="423.50" x2="191.68" y2="423.50" stroke="#555" stroke-width="1" />
<path d="M66.42,508.22 L91.08,513.17 L115.73,504.47 L140.38,446.11 L165.03,416.59 L189.68,432.80" fill="none" stroke="#bcbcbc" stroke-width="2.0" stroke-linejoin="round"/>
<rect x="63.32" y="505.12" width="6.20" height="6.20" fill="#bcbcbc" stroke="none" stroke-width="1" />
<rect x="87.98" y="510.07" width="6.20" height="6.20" fill="#bcbcbc" stroke="none" stroke-width="1" />
<rect x="112.63" y="501.37" width="6.20" height="6.20" fill="#bcbcbc" stroke="none" stroke-width="1" />
<rect x="137.28" y="443.01" width="6.20" height="6.20" fill="#bcbcbc" stroke="none" stroke-width="1" />
<rect x="161.93" y="413.49" width="6.20" height="6.20" fill="#bcbcbc" stroke="none" stroke-width="1" />
<rect x="186.58" y="429.70" width="6.20" height="6.20" fill="#bcbcbc" stroke="none" stroke-width="1" />
<text x="57.80" y="403.20" font-size="9.6" text-anchor="start" font-weight="normal" fill="#111" stroke="#111" stroke-width="0.22" >Hbb-bh1 (embryonic)</text>
<line x1="159.10" y1="495.50" x2="179.00" y2="495.50" stroke="#000" stroke-width="2.1" />
<path d="M169.05,493.50 L170.65,495.50 L169.05,497.50 L167.45,495.50Z" fill="#000"/>
<text x="181.10" y="498.00" font-size="7.6" text-anchor="start" font-weight="normal" fill="#111" stroke="#111" stroke-width="0.22" >WT</text>
<line x1="159.10" y1="504.10" x2="179.00" y2="504.10" stroke="#c4c4c4" stroke-width="1.6" />
<rect x="167.25" y="502.30" width="3.60" height="3.60" fill="#b8b8b8" stroke="none" stroke-width="1" />
<text x="181.10" y="506.80" font-size="7.6" text-anchor="start" font-weight="normal" fill="#111" stroke="#111" stroke-width="0.22" >KO</text>
<text x="0" y="0" font-size="9.5" text-anchor="middle" font-weight="bold" fill="#000" stroke="#000" stroke-width="0.2" transform="translate(19.00,459.80) rotate(-90)" textLength="90" lengthAdjust="spacingAndGlyphs">Relative Expression</text>
<text x="0" y="0" font-size="9.6" text-anchor="middle" font-weight="bold" fill="#000" stroke="#000" stroke-width="0.2" transform="translate(29.80,459.80) rotate(-90)" textLength="32.8" lengthAdjust="spacingAndGlyphs">(log10)</text>
<circle cx="99.10" cy="456.10" r="1.60" fill="#222"/>
<circle cx="104.60" cy="456.10" r="1.60" fill="#222"/>
<circle cx="110.10" cy="456.10" r="1.60" fill="#222"/>
<circle cx="124.70" cy="412.50" r="1.60" fill="#222"/>
<circle cx="130.10" cy="412.50" r="1.60" fill="#222"/>
<circle cx="135.60" cy="412.50" r="1.60" fill="#222"/>
<text x="306.40" y="391.30" font-size="13.3" text-anchor="start" font-weight="bold" fill="#000" stroke="#000" stroke-width="0.12" >F</text>
<line x1="362.50" y1="384.40" x2="362.50" y2="520.60" stroke="#888" stroke-width="1" />
<line x1="361.80" y1="520.50" x2="512.70" y2="520.50" stroke="#666" stroke-width="1" />
<line x1="361.80" y1="384.90" x2="512.70" y2="384.90" stroke="#555" stroke-width="1.2" />
<line x1="512.50" y1="384.40" x2="512.50" y2="520.60" stroke="#666" stroke-width="1" />
<line x1="361.80" y1="501.50" x2="512.70" y2="501.50" stroke="#a0a0a0" stroke-width="1" />
<line x1="386.50" y1="501.14" x2="386.50" y2="498.14" stroke="#a0a0a0" stroke-width="1" />
<line x1="412.50" y1="501.14" x2="412.50" y2="498.14" stroke="#a0a0a0" stroke-width="1" />
<line x1="437.50" y1="501.14" x2="437.50" y2="498.14" stroke="#a0a0a0" stroke-width="1" />
<line x1="462.50" y1="501.14" x2="462.50" y2="498.14" stroke="#a0a0a0" stroke-width="1" />
<line x1="487.50" y1="501.14" x2="487.50" y2="498.14" stroke="#a0a0a0" stroke-width="1" />
<line x1="358.80" y1="520.50" x2="361.80" y2="520.50" stroke="#888" stroke-width="1" />
<text x="354.60" y="523.39" font-size="9.3" text-anchor="end" font-weight="normal" fill="#111" stroke="#111" stroke-width="0.22" >-1</text>
<line x1="358.80" y1="501.50" x2="361.80" y2="501.50" stroke="#888" stroke-width="1" />
<text x="354.60" y="503.93" font-size="9.3" text-anchor="end" font-weight="normal" fill="#111" stroke="#111" stroke-width="0.22" >0</text>
<line x1="358.80" y1="481.50" x2="361.80" y2="481.50" stroke="#888" stroke-width="1" />
<text x="354.60" y="484.48" font-size="9.3" text-anchor="end" font-weight="normal" fill="#111" stroke="#111" stroke-width="0.22" >1</text>
<line x1="358.80" y1="462.50" x2="361.80" y2="462.50" stroke="#888" stroke-width="1" />
<text x="354.60" y="465.02" font-size="9.3" text-anchor="end" font-weight="normal" fill="#111" stroke="#111" stroke-width="0.22" >2</text>
<line x1="358.80" y1="442.50" x2="361.80" y2="442.50" stroke="#888" stroke-width="1" />
<text x="354.60" y="445.56" font-size="9.3" text-anchor="end" font-weight="normal" fill="#111" stroke="#111" stroke-width="0.22" >3</text>
<line x1="358.80" y1="423.50" x2="361.80" y2="423.50" stroke="#888" stroke-width="1" />
<text x="354.60" y="426.10" font-size="9.3" text-anchor="end" font-weight="normal" fill="#111" stroke="#111" stroke-width="0.22" >4</text>
<line x1="358.80" y1="403.50" x2="361.80" y2="403.50" stroke="#888" stroke-width="1" />
<text x="354.60" y="406.65" font-size="9.3" text-anchor="end" font-weight="normal" fill="#111" stroke="#111" stroke-width="0.22" >5</text>
<line x1="358.80" y1="384.50" x2="361.80" y2="384.50" stroke="#888" stroke-width="1" />
<text x="354.60" y="387.19" font-size="9.3" text-anchor="end" font-weight="normal" fill="#111" stroke="#111" stroke-width="0.22" >6</text>
<text x="374.38" y="518.80" font-size="8.2" text-anchor="middle" font-weight="normal" fill="#111" stroke="#111" stroke-width="0.22" >D0</text>
<text x="399.53" y="518.80" font-size="8.2" text-anchor="middle" font-weight="normal" fill="#111" stroke="#111" stroke-width="0.22" >D2</text>
<text x="424.68" y="518.80" font-size="8.2" text-anchor="middle" font-weight="normal" fill="#111" stroke="#111" stroke-width="0.22" >D4</text>
<text x="449.83" y="518.80" font-size="8.2" text-anchor="middle" font-weight="normal" fill="#111" stroke="#111" stroke-width="0.22" >D6</text>
<text x="474.98" y="518.80" font-size="8.2" text-anchor="middle" font-weight="normal" fill="#111" stroke="#111" stroke-width="0.22" >D8</text>
<text x="500.13" y="518.80" font-size="8.2" text-anchor="middle" font-weight="normal" fill="#111" stroke="#111" stroke-width="0.22" >D10</text>
<line x1="374.50" y1="501.14" x2="374.50" y2="496.28" stroke="#444" stroke-width="1" />
<line x1="372.38" y1="496.50" x2="376.38" y2="496.50" stroke="#444" stroke-width="1" />
<line x1="399.50" y1="510.48" x2="399.50" y2="500.17" stroke="#444" stroke-width="1" />
<line x1="397.53" y1="500.50" x2="401.53" y2="500.50" stroke="#444" stroke-width="1" />
<line x1="424.50" y1="486.36" x2="424.50" y2="478.57" stroke="#444" stroke-width="1" />
<line x1="422.68" y1="478.50" x2="426.68" y2="478.50" stroke="#444" stroke-width="1" />
<line x1="449.50" y1="434.99" x2="449.50" y2="429.54" stroke="#444" stroke-width="1" />
<line x1="447.83" y1="429.50" x2="451.83" y2="429.50" stroke="#444" stroke-width="1" />
<line x1="474.50" y1="414.75" x2="474.50" y2="404.05" stroke="#444" stroke-width="1" />
<line x1="472.98" y1="404.50" x2="476.98" y2="404.50" stroke="#444" stroke-width="1" />
<line x1="500.50" y1="406.97" x2="500.50" y2="396.27" stroke="#444" stroke-width="1" />
<line x1="498.13" y1="396.50" x2="502.13" y2="396.50" stroke="#444" stroke-width="1" />
<path d="M374.38,501.14 L399.53,510.48 L424.68,486.36 L449.83,434.99 L474.98,414.75 L500.13,406.97" fill="none" stroke="#000" stroke-width="2.4" stroke-linejoin="round"/>
<path d="M374.38,497.64 L377.88,501.14 L374.38,504.64 L370.88,501.14Z" fill="#000"/>
<path d="M399.53,506.98 L403.03,510.48 L399.53,513.98 L396.03,510.48Z" fill="#000"/>
<path d="M424.68,482.86 L428.18,486.36 L424.68,489.86 L421.18,486.36Z" fill="#000"/>
<path d="M449.83,431.49 L453.33,434.99 L449.83,438.49 L446.33,434.99Z" fill="#000"/>
<path d="M474.98,411.25 L478.48,414.75 L474.98,418.25 L471.48,414.75Z" fill="#000"/>
<path d="M500.13,403.47 L503.63,406.97 L500.13,410.47 L496.63,406.97Z" fill="#000"/>
<line x1="424.50" y1="510.48" x2="424.50" y2="493.94" stroke="#555" stroke-width="1" />
<line x1="422.68" y1="493.50" x2="426.68" y2="493.50" stroke="#555" stroke-width="1" />
<line x1="500.50" y1="433.63" x2="500.50" y2="429.15" stroke="#555" stroke-width="1" />
<line x1="498.13" y1="429.50" x2="502.13" y2="429.50" stroke="#555" stroke-width="1" />
<path d="M374.38,509.90 L399.53,510.87 L424.68,510.48 L449.83,464.76 L474.98,438.69 L500.13,433.63" fill="none" stroke="#bcbcbc" stroke-width="2.0" stroke-linejoin="round"/>
<rect x="371.27" y="506.80" width="6.20" height="6.20" fill="#bcbcbc" stroke="none" stroke-width="1" />
<rect x="396.43" y="507.77" width="6.20" height="6.20" fill="#bcbcbc" stroke="none" stroke-width="1" />
<rect x="421.57" y="507.38" width="6.20" height="6.20" fill="#bcbcbc" stroke="none" stroke-width="1" />
<rect x="446.73" y="461.66" width="6.20" height="6.20" fill="#bcbcbc" stroke="none" stroke-width="1" />
<rect x="471.88" y="435.59" width="6.20" height="6.20" fill="#bcbcbc" stroke="none" stroke-width="1" />
<rect x="497.03" y="430.53" width="6.20" height="6.20" fill="#bcbcbc" stroke="none" stroke-width="1" />
<text x="370.60" y="398.60" font-size="9.7" text-anchor="start" font-weight="normal" fill="#111" stroke="#111" stroke-width="0.22" >Hbb-b1 (adult)</text>
<line x1="472.60" y1="489.80" x2="492.50" y2="489.80" stroke="#000" stroke-width="2.1" />
<path d="M482.55,487.80 L484.15,489.80 L482.55,491.80 L480.95,489.80Z" fill="#000"/>
<text x="494.30" y="492.40" font-size="7.2" text-anchor="start" font-weight="normal" fill="#111" stroke="#111" stroke-width="0.22" >WT</text>
<line x1="472.60" y1="497.80" x2="492.50" y2="497.80" stroke="#c4c4c4" stroke-width="1.6" />
<rect x="480.75" y="496.00" width="3.60" height="3.60" fill="#b8b8b8" stroke="none" stroke-width="1" />
<text x="494.30" y="499.70" font-size="7.2" text-anchor="start" font-weight="normal" fill="#111" stroke="#111" stroke-width="0.22" >KO</text>
<text x="0" y="0" font-size="9.5" text-anchor="middle" font-weight="bold" fill="#000" stroke="#000" stroke-width="0.2" transform="translate(328.60,461.00) rotate(-90)" textLength="90.4" lengthAdjust="spacingAndGlyphs">Relative Expression</text>
<text x="0" y="0" font-size="9.6" text-anchor="middle" font-weight="bold" fill="#000" stroke="#000" stroke-width="0.2" transform="translate(339.60,461.00) rotate(-90)" textLength="34.8" lengthAdjust="spacingAndGlyphs">(log 10)</text>
<circle cx="437.60" cy="428.60" r="1.35" fill="#222"/>
<circle cx="441.50" cy="428.60" r="1.35" fill="#222"/>
<circle cx="445.40" cy="428.60" r="1.35" fill="#222"/>
<circle cx="462.10" cy="413.00" r="1.50" fill="#222"/>
<circle cx="467.10" cy="413.00" r="1.50" fill="#222"/>
<circle cx="495.60" cy="402.20" r="1.50" fill="#222"/>
</svg>
</body></html>
